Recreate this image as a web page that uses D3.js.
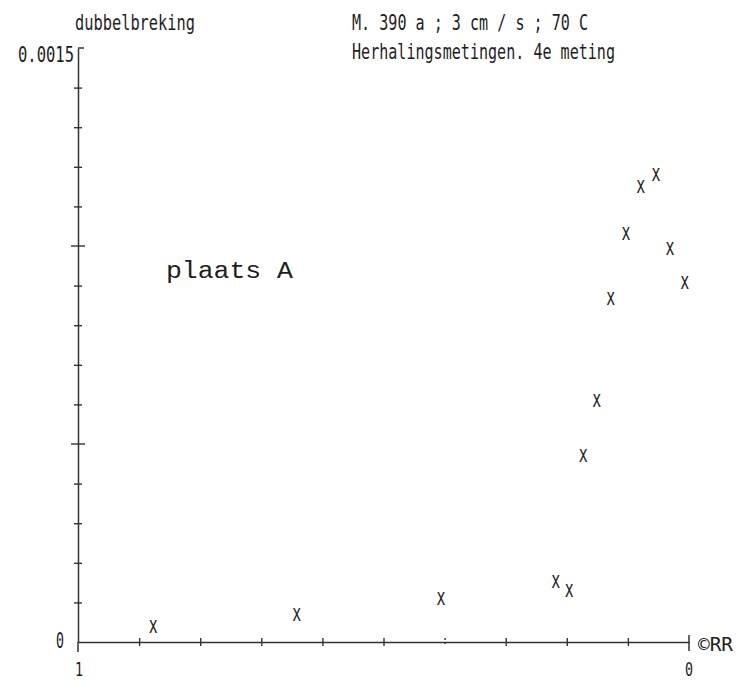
<!DOCTYPE html>
<html>
<head>
<meta charset="utf-8">
<script src="https://cdn.jsdelivr.net/npm/d3@7"></script>
<style>
  body { margin: 0; background: #fff; }
  text { fill: #1e1e1e; }
  .mono { font-family: "DejaVu Sans Mono", monospace; }
  .serif { font-family: "Liberation Mono", "Courier New", monospace; }
</style>
</head>
<body>
<div id="chart"></div>
<script>
const xValues = [0.877, 0.642, 0.406, 0.218, 0.196, 0.173, 0.151, 0.128, 0.103, 0.079, 0.054, 0.031, 0.007];
const yValues = [0.000038, 0.000068, 0.000109, 0.000152, 0.000129, 0.00047, 0.000609, 0.000866, 0.00103, 0.001149, 0.001179, 0.000992, 0.000907];

const xTicks = [0.9, 0.8, 0.7, 0.6, 0.5, 0.4, 0.3, 0.2, 0.1];
const yMinorTicks = [0.0001, 0.0002, 0.0003, 0.0004, 0.0006, 0.0007, 0.0008, 0.0009, 0.0011, 0.0012, 0.0013, 0.0014];
const yMajorTicks = [0.0005, 0.001];

const yTitle = 'dubbelbreking';
const titleLines = ['M. 390 a ; 3 cm / s ; 70 C', 'Herhalingsmetingen. 4e meting'];
const note = 'plaats A';

const svg = d3.select('#chart').append('svg').attr('width', 751).attr('height', 682);

const x = d3.scaleLinear().domain([1, 0]).range([78, 689]);
const y = d3.scaleLinear().domain([0, 0.0015]).range([642, 48]);

const ink = '#333';

// x axis
const gx = svg.append('g')
    .attr('transform', `translate(0,${y(0)})`)
    .call(d3.axisBottom(x).tickValues(xTicks).tickSize(0).tickSizeOuter(0).tickFormat(''));
gx.select('.domain').attr('stroke', ink).attr('stroke-width', 1.5);
gx.selectAll('.tick line')
    .attr('stroke', ink).attr('stroke-width', 1.4)
    .attr('y1', -4).attr('y2', 4)
    .attr('stroke-dasharray', d => d === 0.4 ? '2,2' : null);

// end mark at x = 0
svg.append('line')
    .attr('x1', x(0)).attr('x2', x(0))
    .attr('y1', y(0) - 7).attr('y2', y(0) + 9)
    .attr('stroke', ink).attr('stroke-width', 1.5);

// y axis
const gy = svg.append('g')
    .attr('transform', `translate(${x(1)},0)`)
    .call(d3.axisLeft(y).tickValues(yMinorTicks).tickSize(0).tickSizeOuter(0).tickFormat(''));
gy.select('.domain').attr('stroke', ink).attr('stroke-width', 1.5);
gy.selectAll('.tick line')
    .attr('stroke', ink).attr('stroke-width', 1.4)
    .attr('x1', -4).attr('x2', 4);

svg.append('g').selectAll('line')
    .data(yMajorTicks)
    .join('line')
    .attr('x1', x(1) - 7).attr('x2', x(1) + 7)
    .attr('y1', d => y(d)).attr('y2', d => y(d))
    .attr('stroke', ink).attr('stroke-width', 1.4);

// axis tail below zero and top corner
svg.append('line')
    .attr('x1', x(1)).attr('x2', x(1))
    .attr('y1', y(0)).attr('y2', y(0) + 10)
    .attr('stroke', ink).attr('stroke-width', 1.5);
svg.append('line')
    .attr('x1', x(1)).attr('x2', x(1) + 6)
    .attr('y1', y(0.0015)).attr('y2', y(0.0015))
    .attr('stroke', ink).attr('stroke-width', 1.5);

// tick labels
svg.append('text').attr('class', 'mono')
    .attr('x', 18).attr('y', 62).attr('font-size', 21)
    .attr('textLength', 56).attr('lengthAdjust', 'spacingAndGlyphs')
    .text('0.0015');
svg.append('text').attr('class', 'mono')
    .attr('x', 60).attr('y', y(0) + 6).attr('font-size', 21)
    .attr('text-anchor', 'middle')
    .attr('textLength', 8).attr('lengthAdjust', 'spacingAndGlyphs')
    .text('0');
svg.append('text').attr('class', 'mono')
    .attr('x', x(1) + 1).attr('y', 676).attr('font-size', 20)
    .attr('text-anchor', 'middle')
    .attr('textLength', 8).attr('lengthAdjust', 'spacingAndGlyphs')
    .text('1');
svg.append('text').attr('class', 'mono')
    .attr('x', x(0)).attr('y', 676).attr('font-size', 20)
    .attr('text-anchor', 'middle')
    .attr('textLength', 8).attr('lengthAdjust', 'spacingAndGlyphs')
    .text('0');
svg.append('text').attr('class', 'mono')
    .attr('x', 698).attr('y', 651).attr('font-size', 20)
    .attr('textLength', 35).attr('lengthAdjust', 'spacingAndGlyphs')
    .text('©RR');

// titles
svg.append('text').attr('class', 'mono')
    .attr('x', 75).attr('y', 30).attr('font-size', 22)
    .attr('textLength', 120).attr('lengthAdjust', 'spacingAndGlyphs')
    .text(yTitle);
svg.append('text').attr('class', 'mono')
    .attr('x', 352).attr('y', 30).attr('font-size', 22)
    .attr('textLength', 236).attr('lengthAdjust', 'spacingAndGlyphs')
    .text(titleLines[0]);
svg.append('text').attr('class', 'mono')
    .attr('x', 352).attr('y', 59).attr('font-size', 22)
    .attr('textLength', 263).attr('lengthAdjust', 'spacingAndGlyphs')
    .text(titleLines[1]);

svg.append('text').attr('class', 'serif')
    .attr('x', 166).attr('y', 278).attr('font-size', 23)
    .attr('textLength', 127).attr('lengthAdjust', 'spacingAndGlyphs')
    .text(note);

// data markers
const data = xValues.map((v, i) => ({x: v, y: yValues[i]}));
svg.append('g').selectAll('text')
    .data(data)
    .join('text')
    .attr('class', 'mono')
    .attr('x', d => x(d.x))
    .attr('y', d => y(d.y) + 6)
    .attr('font-size', 23)
    .attr('text-anchor', 'middle')
    .attr('textLength', 9).attr('lengthAdjust', 'spacingAndGlyphs')
    .text('x');
</script>
</body>
</html>
